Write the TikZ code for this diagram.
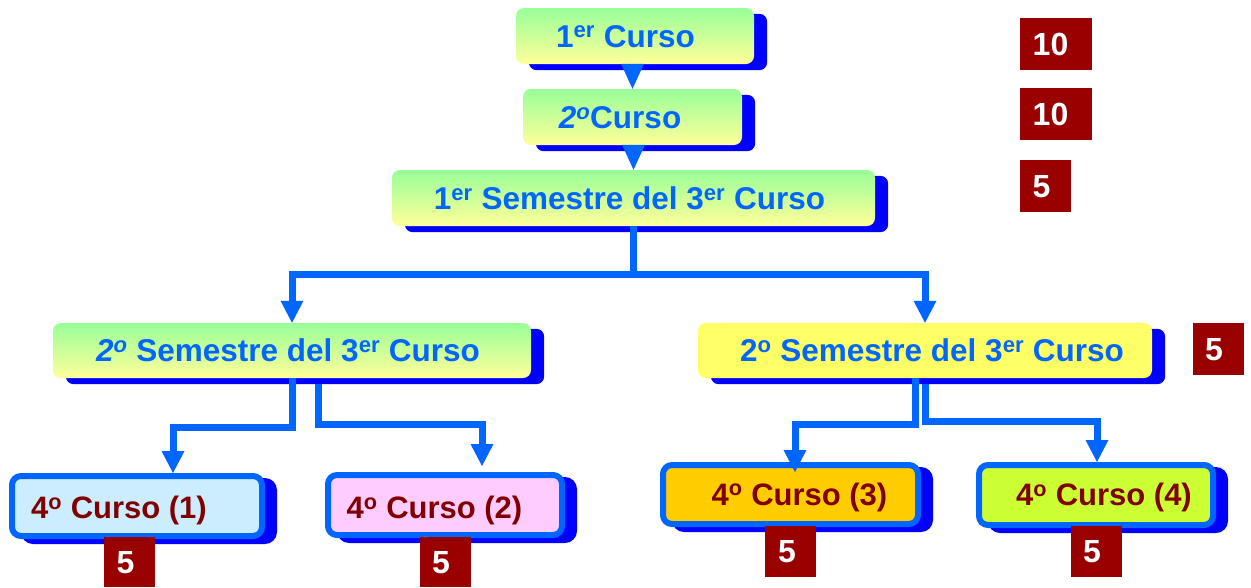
\documentclass[tikz,border=0pt]{standalone}
\usepackage{fontspec}
\setmainfont{Liberation Sans}
\usetikzlibrary{arrows.meta,calc,backgrounds}
\definecolor{lineblue}{HTML}{0066FF}
\definecolor{shadowblue}{HTML}{0000FF}
\definecolor{gtop}{HTML}{99FF99}
\definecolor{gbot}{HTML}{FFFF99}
\definecolor{yel}{HTML}{FFFF66}
\definecolor{cfillone}{HTML}{CCECFF}
\definecolor{cfilltwo}{HTML}{FFCCFF}
\definecolor{cfillthree}{HTML}{FFCC00}
\definecolor{cfillfour}{HTML}{CCFF33}
\definecolor{darkred}{HTML}{800000}
\definecolor{scorered}{HTML}{990000}
\begin{document}
\begin{tikzpicture}[x=1pt,y=-1pt,
  topbox/.style={rectangle, rounded corners=8pt, inner sep=0pt},
  grad/.style={topbox, top color=gtop, bottom color=gbot},
  course/.style={rectangle, rounded corners=9pt, draw=lineblue, line width=6pt, inner sep=0pt, minimum height=60pt},
  shadowfill/.style={fill=shadowblue, rounded corners=#1},
  shadowfill/.default=8pt,
  ttext/.style={text=lineblue, font=\fontsize{31.5}{38}\selectfont\bfseries, inner sep=0pt, anchor=base},
  ctext/.style={text=darkred, font=\fontsize{31}{37}\selectfont\bfseries, inner sep=0pt, anchor=base},
  score/.style={fill=scorered, inner sep=0pt, minimum height=52pt},
  stext/.style={text=white, font=\fontsize{32}{38}\selectfont\bfseries, inner sep=0pt, anchor=base},
  conn/.style={draw=lineblue, line width=7pt, -{Triangle[width=23pt,length=22pt,line width=0pt]}},
  tri/.style={draw=lineblue, line width=7pt, -{Triangle[width=23pt,length=25pt,line width=0pt]}},
]
\useasboundingbox (0,0) rectangle (1251,587);

% top boxes
\node[grad, minimum width=238pt, minimum height=56pt] (b1) at (635,36) {};
\node[grad, minimum width=219pt, minimum height=56pt] (b2) at (632.5,117) {};
\node[grad, minimum width=483pt, minimum height=56pt] (b3) at (633.5,198) {};
\node[grad, minimum width=478pt, minimum height=55pt] (b4) at (292,350.5) {};
\node[topbox, fill=yel, minimum width=454pt, minimum height=55pt] (b5) at (925,350.5) {};
% course boxes
\node[course, fill=cfillone, minimum width=250pt] (c1) at (137,506) {};
\node[course, fill=cfilltwo, minimum width=234pt] (c2) at (445,505) {};
\node[course, fill=cfillthree, minimum width=255pt, minimum height=59pt] (c3) at (790.5,494.5) {};
\node[course, fill=cfillfour, minimum width=234pt] (c4) at (1096,495) {};

% shadows and page background
\begin{scope}[on background layer]
\fill[white] (0,0) rectangle (1251,587);
\foreach \b in {b1,b2,b3,b4,b5}{
  \fill[shadowfill=8pt] ($(\b.north west)+(13,6)$) rectangle ($(\b.south east)+(13,6)$);
}
\foreach \c in {c1,c2,c3,c4}{
  \fill[shadowfill=12pt] ($(\c.north west)+(12,5)$) rectangle ($(\c.south east)+(12,5)$);
}
\end{scope}

% texts
\node[ttext] (t1) at (625.5,47) {1\textsuperscript{er} Curso};
\node[ttext] (t2) at (620,128.3) {\textit{2\textsuperscript{o}}Curso};
\node[ttext] (t3) at (629.5,209.3) {1\textsuperscript{er} Semestre del 3\textsuperscript{er} Curso};
\node[ttext] (t4) at (288,361.7) {\textit{2\textsuperscript{o}} Semestre del 3\textsuperscript{er} Curso};
\node[ttext] (t5) at (932,361.7) {2\textsuperscript{o} Semestre del 3\textsuperscript{er} Curso};
\node[ctext] (u1) at (119,518.3) {4\textsuperscript{o} Curso (1)};
\node[ctext] (u2) at (434.5,518.3) {4\textsuperscript{o} Curso (2)};
\node[ctext] (u3) at (799.5,505) {4\textsuperscript{o} Curso (3)};
\node[ctext] (u4) at (1104,505.7) {4\textsuperscript{o} Curso (4)};

% connectors
\draw[tri] (b2.north |- b1.south) -- (b2.north);
\draw[tri] (b3.north |- b2.south) -- (b3.north);
\coordinate (j3) at (633,274.5);
\draw[conn] (j3 |- b3.south) -- (j3) -| (b4.north);
\draw[conn] (j3 |- b3.south) -- (j3) -| (b5.north);
\coordinate (k1) at (173,427);
\draw[conn] (b4.south) |- (k1) -- (k1 |- c1.north);
\coordinate (o42) at (318,384);
\coordinate (k2) at (482,424.5);
\draw[conn] (o42) |- (k2) -- ($(k2 |- c2.north)+(0,-6)$);
\coordinate (o51) at (915,378);
\coordinate (k3) at (795,424.5);
\draw[conn] (o51) |- (k3) -- ($(k3 |- c3.north)+(0,10)$);
\coordinate (o52) at (925,384);
\coordinate (k4) at (1097,421);
\draw[conn] (o52) |- (k4) -- (k4 |- c4.north);

% score boxes
\node[score, minimum width=72pt] (s1) at (1056,44) {};
\node[score, minimum width=72pt] (s2) at (1056,114) {};
\node[score, minimum width=51pt] (s3) at (1045.5,186) {};
\node[score, minimum width=51pt] (s4) at (1218.5,349) {};
\node[score, minimum width=51pt, minimum height=50pt] (s5) at (129.5,562) {};
\node[score, minimum width=51pt, minimum height=50pt] (s6) at (445.5,562) {};
\node[score, minimum width=51pt, minimum height=51pt] (s7) at (790.5,551.5) {};
\node[score, minimum width=51pt, minimum height=51pt] (s8) at (1096.5,551.5) {};
\node[stext] (n1) at (1050.5,55) {10};
\node[stext] (n2) at (1050.5,125) {10};
\node[stext] (n3) at (1041.5,197) {5};
\node[stext] (n4) at (1214,360) {5};
\node[stext] (n5) at (125.5,573) {5};
\node[stext] (n6) at (441,573) {5};
\node[stext] (n7) at (787,562.7) {5};
\node[stext] (n8) at (1092,562.7) {5};
\end{tikzpicture}
\end{document}
